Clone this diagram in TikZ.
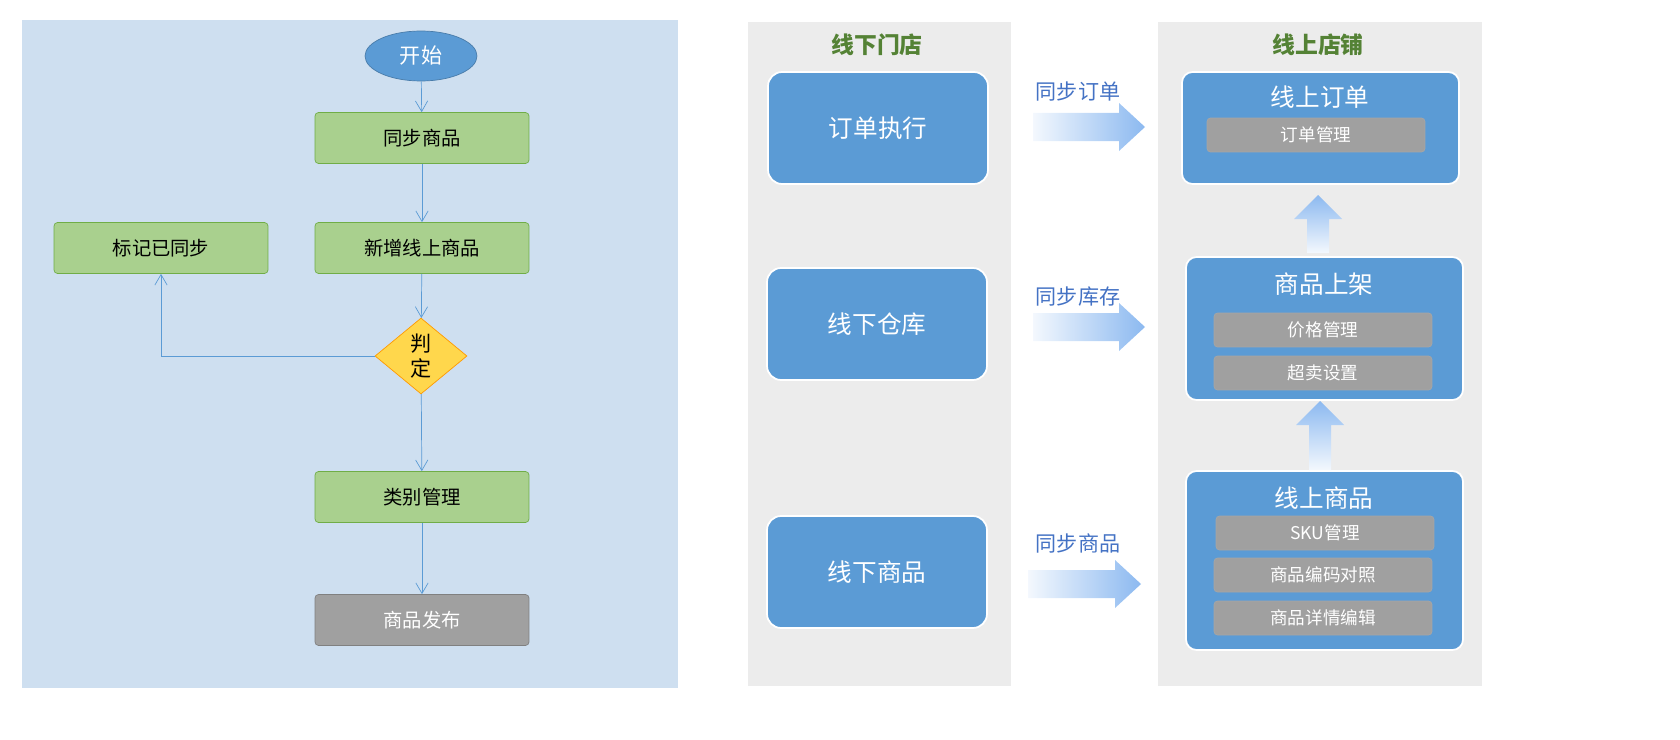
\documentclass[tikz,border=0pt]{standalone}
\usepackage{fontspec}
\setmainfont{Noto Sans CJK SC}
\usetikzlibrary{shapes.geometric,arrows.meta}

\definecolor{panelblue}{RGB}{206,223,240}
\definecolor{panelgray}{RGB}{236,236,236}
\definecolor{boxblue}{RGB}{91,155,213}
\definecolor{boxgreen}{RGB}{169,208,142}
\definecolor{linegreen}{RGB}{112,173,71}
\definecolor{boxgray}{RGB}{160,160,160}
\definecolor{linkblue}{RGB}{91,155,213}
\definecolor{titlegreen}{RGB}{84,130,53}
\definecolor{labelblue}{RGB}{68,114,196}
\definecolor{fatblue}{RGB}{140,185,240}

\begin{document}
\begin{tikzpicture}[x=0.02cm,y=-0.02cm,
  flowbox/.style={draw=linegreen,fill=boxgreen,rounded corners=2pt,minimum width=4.28cm,minimum height=1.02cm,font=\fontsize{11}{13}\selectfont},
  done/.style={flowbox,draw=gray,fill=boxgray,text=white},
  link/.style={draw=linkblue,-{Straight Barb[length=6pt,width=7pt]}},
  store/.style={draw=white,line width=1pt,fill=boxblue,rounded corners=8pt,text=white,minimum width=4.4cm,minimum height=2.24cm,font=\fontsize{14}{16}\selectfont},
  shop/.style={draw=white,line width=1pt,fill=boxblue,rounded corners=6pt},
  item/.style={draw=gray!70,fill=boxgray,rounded corners=2pt,text=white,minimum width=4.36cm,minimum height=0.68cm,font=\fontsize{10}{12}\selectfont},
  sync/.style={text=labelblue,font=\fontsize{12}{14}\selectfont},
  column/.style={text=titlegreen,font=\bfseries\fontsize{13}{15}\selectfont}]

\useasboundingbox (0,0) rectangle (1680,740);

% flow
\fill[panelblue] (22,20) rectangle (678,688);
\node[ellipse,fill=boxblue,draw=boxblue!80!black,text=white,minimum width=2.24cm,minimum height=1cm,font=\fontsize{12}{14}\selectfont] (start) at (421,56) {开始};
\node[flowbox] (syncgoods) at (422,138) {同步商品};
\node[flowbox] (newgoods) at (422,248) {新增线上商品};
\node[flowbox] (marked) at (161,248) {标记已同步};
\node[diamond,aspect=1.2,fill=orange!45!yellow!70,draw=orange!80!yellow,minimum width=1.84cm,minimum height=1.52cm,inner sep=0pt,align=center,font=\fontsize{12}{14}\selectfont] (judge) at (421,356) {判\\定};
\node[flowbox] (category) at (422,497) {类别管理};
\node[done] (publish) at (422,620) {商品发布};
\coordinate (turn) at (161,356);

\draw[link] (start) -- (syncgoods);
\draw[link] (syncgoods) -- (newgoods);
\draw[link] (newgoods) -- (judge);
\draw[link] (judge) -- (category);
\draw[link] (category) -- (publish);
\draw[link] (judge) -- (turn) -- (marked);

% stores
\fill[panelgray] (748,22) rectangle (1011,686);
\fill[panelgray] (1158,22) rectangle (1482,686);
\node[column] (offline) at (877,45) {线下门店};
\node[column] (online) at (1318,45) {线上店铺};

\node[store] (orders) at (878,128) {订单执行};
\node[store] (stock) at (877,324) {线下仓库};
\node[store] (goods) at (877,572) {线下商品};

\draw[shop] (1182,72) rectangle (1459,184);
\node[text=white,font=\fontsize{14}{16}\selectfont] (onorder) at (1320,97) {线上订单};
\node[item] (ordermgr) at (1316,135) {订单管理};

\draw[shop] (1186,257) rectangle (1463,400);
\node[text=white,font=\fontsize{14}{16}\selectfont] (shelf) at (1324,284) {商品上架};
\node[item] (price) at (1323,330) {价格管理};
\node[item] (oversell) at (1323,373) {超卖设置};

\draw[shop] (1186,471) rectangle (1463,650);
\node[text=white,font=\fontsize{14}{16}\selectfont] (ongoods) at (1324,498) {线上商品};
\node[item] (sku) at (1325,533) {SKU管理};
\node[item] (codes) at (1323,575) {商品编码对照};
\node[item] (detail) at (1323,618) {商品详情编辑};

% fat arrows
\foreach \y/\a/\b in {127/1033/1145, 327/1033/1145, 584/1028/1141}
  \shade[left color=fatblue!10,right color=fatblue]
    (\a,\y-14) -- (\b-26,\y-14) -- (\b-26,\y-24) -- (\b,\y) -- (\b-26,\y+24) -- (\b-26,\y+14) -- (\a,\y+14) -- cycle;
\node[sync] (s1) at (1078,92) {同步订单};
\node[sync] (s2) at (1078,297) {同步库存};
\node[sync] (s3) at (1078,543) {同步商品};

\foreach \x/\lo/\hi in {1318/253/195, 1320/470/401}
  \shade[bottom color=fatblue!10,top color=fatblue]
    (\x-11,\lo) -- (\x-11,\hi+24) -- (\x-24,\hi+24) -- (\x,\hi) -- (\x+24,\hi+24) -- (\x+11,\hi+24) -- (\x+11,\lo) -- cycle;

\end{tikzpicture}
\end{document}
